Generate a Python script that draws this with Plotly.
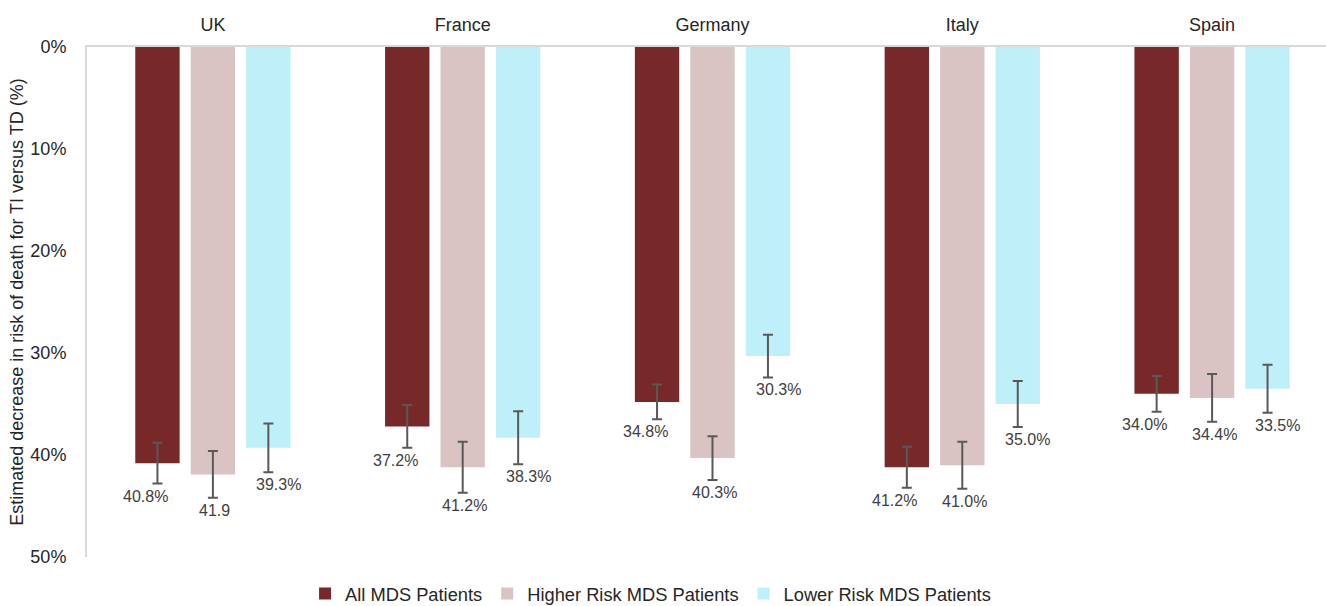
import plotly.graph_objects as go

countries = ["UK", "France", "Germany", "Italy", "Spain"]
series_names = ["All MDS Patients", "Higher Risk MDS Patients", "Lower Risk MDS Patients"]

all_mds = [40.8, 37.2, 34.8, 41.2, 34.0]
higher_risk = [41.9, 41.2, 40.3, 41.0, 34.4]
lower_risk = [39.3, 38.3, 30.3, 35.0, 33.5]

all_mds_err = [2.0, 2.1, 1.7, 2.0, 1.75]
higher_risk_err = [2.3, 2.5, 2.15, 2.3, 2.35]
lower_risk_err = [2.4, 2.6, 2.1, 2.25, 2.35]

all_mds_text = ["40.8%", "37.2%", "34.8%", "41.2%", "34.0%"]
higher_risk_text = ["41.9", "41.2%", "40.3%", "41.0%", "34.4%"]
lower_risk_text = ["39.3%", "38.3%", "30.3%", "35.0%", "33.5%"]

y_ticks = [0, 10, 20, 30, 40, 50]
y_tick_text = ["0%", "10%", "20%", "30%", "40%", "50%"]

colors = ["#772828", "#D9C3C3", "#BFEFF8"]
label_xshift = [-12, 2, 10]

values = [all_mds, higher_risk, lower_risk]
errors = [all_mds_err, higher_risk_err, lower_risk_err]
texts = [all_mds_text, higher_risk_text, lower_risk_text]

font_family = "Liberation Sans, Arial, sans-serif"

fig = go.Figure()
for i, name in enumerate(series_names):
    fig.add_trace(go.Bar(
        x=countries,
        y=values[i],
        name=name,
        marker=dict(color=colors[i], line=dict(width=0)),
        error_y=dict(type="data", array=errors[i], visible=True,
                     color="#595959", thickness=2, width=5),
        offsetgroup=str(i),
    ))

# value labels sit just below each error bar
n = len(series_names)
for i in range(n):
    for j, c in enumerate(countries):
        fig.add_annotation(
            x=j, y=values[i][j] + errors[i][j],
            xref="x", yref="y",
            text=texts[i][j], showarrow=False,
            yanchor="top", xanchor="center",
            xshift=label_xshift[i] + (i - 1) * 55.5, yshift=-2,
            font=dict(size=16, color="#404040", family=font_family),
        )

fig.update_layout(
    width=1326, height=606,
    margin=dict(l=87, r=0, t=47, b=49, autoexpand=False),
    paper_bgcolor="white", plot_bgcolor="white",
    barmode="group", bargap=0.334, bargroupgap=0.2,
    font=dict(family=font_family, size=16, color="#262626"),
    showlegend=True,
    legend=dict(orientation="h", x=0.176, xanchor="left", y=-0.072, yanchor="middle",
                font=dict(size=18.3, color="#262626", family=font_family),
                itemwidth=30, traceorder="normal"),
    xaxis=dict(
        type="category", side="top", range=[-0.504, 4.456],
        showline=True, linecolor="#d9d9d9", linewidth=2,
        ticks="", ticklabelstandoff=7, showgrid=False, zeroline=False,
        tickfont=dict(size=18, color="#262626"),
    ),
    yaxis=dict(
        range=[50, 0], tickmode="array", tickvals=y_ticks, ticktext=y_tick_text,
        showline=True, linecolor="#d9d9d9", linewidth=2,
        ticks="", ticklabelstandoff=15, showgrid=False, zeroline=False,
        tickfont=dict(size=18, color="#262626"),
        title=dict(text="Estimated decrease in risk of death for TI versus TD (%)",
                   font=dict(size=18, color="#262626"), standoff=2),
    ),
)

fig.write_html("out.html")
